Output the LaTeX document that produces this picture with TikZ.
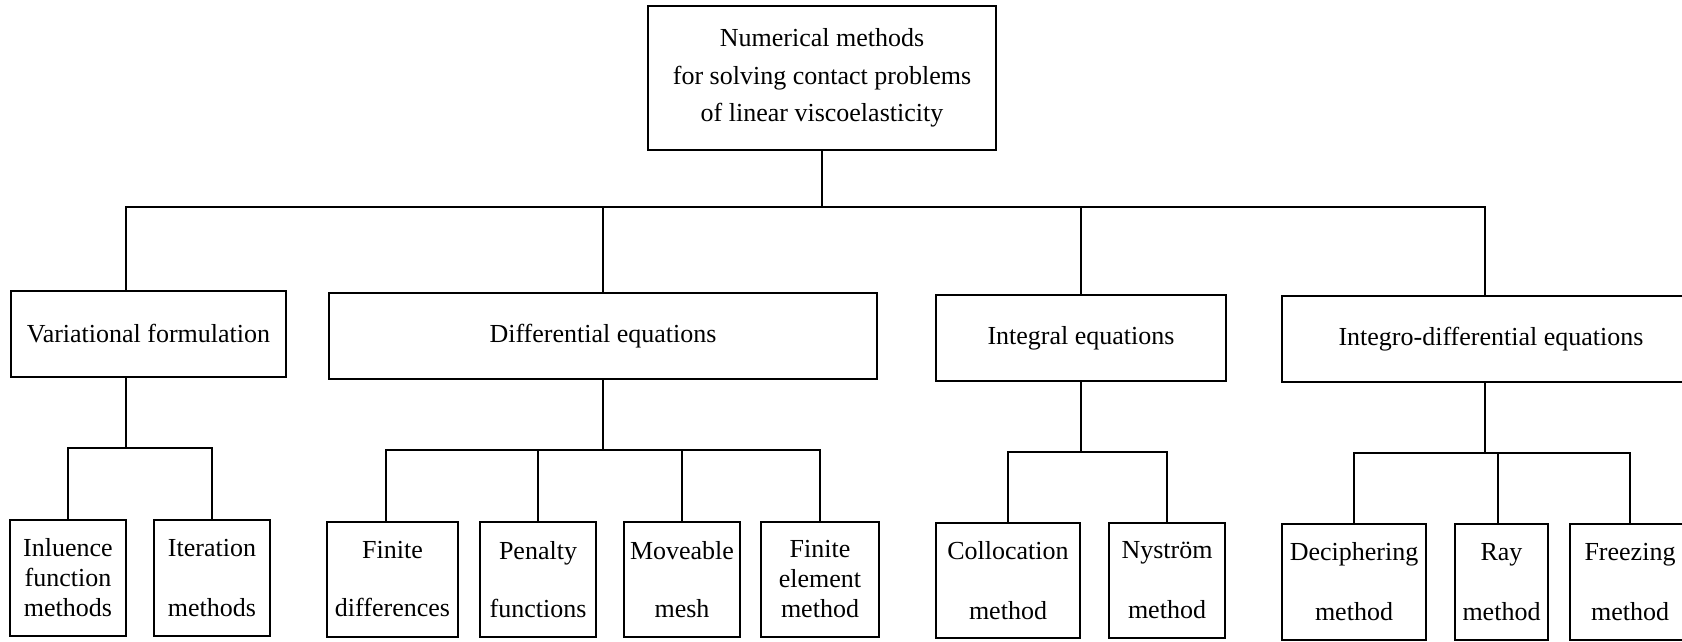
\documentclass[tikz,border=0pt]{standalone}
\usepackage{fontspec}
\setmainfont{Liberation Serif}
\begin{document}
\begin{tikzpicture}[x=1pt,y=-1pt,
  box/.style={draw,line width=1.8pt,inner sep=0pt,align=center,
    font=\fontsize{26}{30}\selectfont},
  conn/.style={line width=1.8pt}]
\useasboundingbox (0,0) rectangle (1682,641);
% top
\node[box,minimum width=348,minimum height=144,
  font=\fontsize{26}{37.5}\selectfont] (top) at (822,78)
  {Numerical methods\\for solving contact problems\\of linear viscoelasticity};
% level 2
\node[box,minimum width=275,minimum height=86] (var) at (148.5,334) {Variational formulation};
\node[box,minimum width=548,minimum height=86] (diff) at (603,336) {Differential equations};
\node[box,minimum width=290,minimum height=86] (integ) at (1081,338) {Integral equations};
\node[box,minimum width=418,minimum height=86] (intdiff) at (1491,339) {Integro-differential equations};
% level 3
\node[box,minimum width=116,minimum height=116] (infl) at (68,578) {Inluence\\function\\methods};
\node[box,minimum width=116,minimum height=116] (iter) at (212,578) {Iteration\\[30pt]methods};
\node[box,minimum width=131,minimum height=115] (fd) at (392.5,579.5) {Finite\\[28pt]differences};
\node[box,minimum width=116,minimum height=115] (pen) at (538,579.5) {Penalty\\[28pt]functions};
\node[box,minimum width=116,minimum height=115] (mov) at (682,579.5) {Moveable\\[28pt]mesh};
\node[box,minimum width=118,minimum height=115] (fem) at (820,579.5) {Finite\\element\\method};
\node[box,minimum width=144,minimum height=115] (col) at (1008,580.5) {Collocation\\[30pt]method};
\node[box,minimum width=116,minimum height=115] (nys) at (1167,580.5) {Nyström\\[30pt]method};
\node[box,minimum width=144,minimum height=116] (dec) at (1354,582) {Deciphering\\[30pt]method};
\node[box,minimum width=93,minimum height=116] (ray) at (1501.5,582) {Ray\\[30pt]method};
\node[box,minimum width=120,minimum height=116] (frz) at (1630,582) {Freezing\\[30pt]method};
% top bus
\coordinate (busL) at (126,207);
\coordinate (busR) at (1485,207);
\draw[conn] (top.south) -- (top.south |- busL);
\draw[conn] (busL |- var.north) -- (busL) -- (busR) -- (busR |- intdiff.north);
\draw[conn] (diff.north) -- (diff.north |- busL);
\draw[conn] (integ.north) -- (integ.north |- busL);
% variational
\coordinate (vj) at (126,448);
\draw[conn] (vj |- var.south) -- (vj);
\draw[conn] (infl.north) -- (infl.north |- vj) -- (iter.north |- vj) -- (iter.north);
% differential
\coordinate (dj) at (603,450);
\coordinate (fdj) at (386,450);
\draw[conn] (dj |- diff.south) -- (dj);
\draw[conn] (fdj |- fd.north) -- (fdj) -- (fem.north |- fdj) -- (fem.north);
\draw[conn] (pen.north) -- (pen.north |- fdj);
\draw[conn] (mov.north) -- (mov.north |- fdj);
% integral
\coordinate (ij) at (1081,452);
\draw[conn] (ij |- integ.south) -- (ij);
\draw[conn] (col.north) -- (col.north |- ij) -- (nys.north |- ij) -- (nys.north);
% integro-differential
\coordinate (idj) at (1485,453);
\coordinate (rj) at (1498,453);
\draw[conn] (idj |- intdiff.south) -- (idj);
\draw[conn] (dec.north) -- (dec.north |- idj) -- (frz.north |- idj) -- (frz.north);
\draw[conn] (rj) -- (rj |- ray.north);
\end{tikzpicture}
\end{document}
